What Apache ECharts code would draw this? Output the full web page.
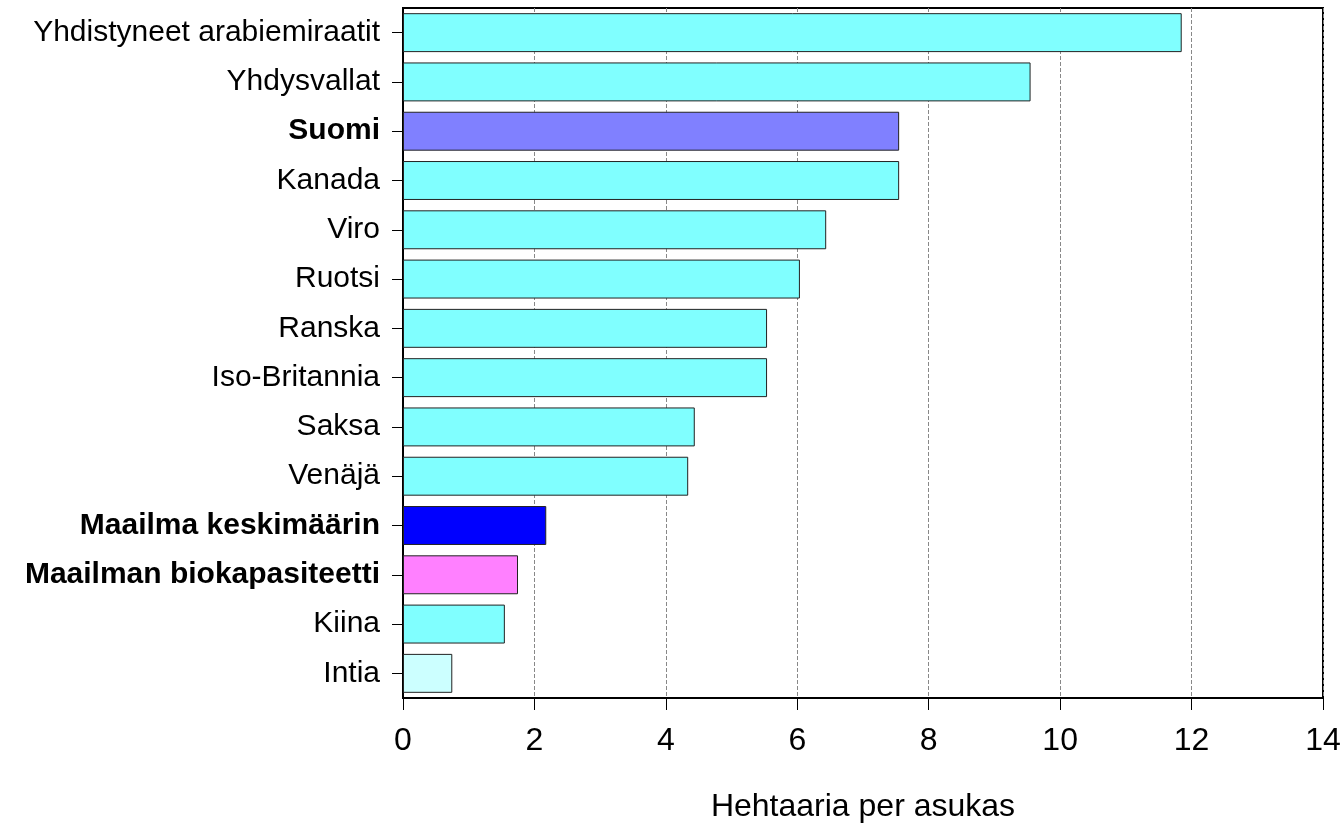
<!DOCTYPE html>
<html>
<head>
<meta charset="utf-8">
<script src="https://cdn.jsdelivr.net/npm/echarts@6/dist/echarts.min.js"></script>
<style>
  html, body { margin: 0; padding: 0; background: #fff; }
  #chart { width: 1344px; height: 832px; }
</style>
</head>
<body>
<div id="chart"></div>
<script>
const countries = ['Yhdistyneet arabiemiraatit', 'Yhdysvallat', 'Suomi', 'Kanada', 'Viro', 'Ruotsi', 'Ranska',
  'Iso-Britannia', 'Saksa', 'Venäjä', 'Maailma keskimäärin', 'Maailman biokapasiteetti', 'Kiina', 'Intia']
const footprint = [11.85, 9.55, 7.55, 7.55, 6.44, 6.04, 5.54, 5.54, 4.44, 4.34, 2.18, 1.75, 1.55, 0.75]
const boldLabels = ['Suomi', 'Maailma keskimäärin', 'Maailman biokapasiteetti']
const barColors = {
  'Suomi': '#8080ff',
  'Maailma keskimäärin': '#0000ff',
  'Maailman biokapasiteetti': '#ff80ff',
  'Intia': '#ccffff'
}

const chart = echarts.init(document.getElementById('chart'))
chart.setOption({
  animation: false,
  textStyle: { fontFamily: 'Liberation Sans' },
  grid: {
    left: 403, right: 21, top: 8, bottom: 134,
    show: true, borderColor: '#000', borderWidth: 2
  },
  xAxis: {
    type: 'value',
    min: 0, max: 14, interval: 2,
    name: 'Hehtaaria per asukas',
    nameLocation: 'middle',
    nameGap: 93,
    nameTextStyle: { fontSize: 32, color: '#000' },
    axisLine: { show: true, lineStyle: { color: '#000', width: 2 } },
    axisTick: { show: true, length: 12, lineStyle: { color: '#000' } },
    axisLabel: { fontSize: 32, color: '#000', margin: 27 },
    splitLine: { show: true, lineStyle: { color: '#888', type: 'dashed', width: 1 } }
  },
  yAxis: {
    type: 'category',
    inverse: true,
    data: countries,
    axisLine: { show: true, lineStyle: { color: '#000', width: 2 } },
    axisTick: { show: true, alignWithLabel: true, length: 11, lineStyle: { color: '#000' } },
    axisLabel: {
      fontSize: 30, color: '#000', margin: 23,
      formatter: v => boldLabels.includes(v) ? '{b|' + v + '}' : v,
      rich: { b: { fontSize: 30, fontWeight: 'bold', color: '#000' } }
    },
    splitLine: { show: false }
  },
  series: [{
    type: 'bar',
    data: footprint.map((v, i) => ({
      value: v,
      itemStyle: { color: barColors[countries[i]] || '#80ffff' }
    })),
    barCategoryGap: '21%',
    itemStyle: { borderColor: '#222', borderWidth: 1 }
  }]
})
</script>
</body>
</html>
